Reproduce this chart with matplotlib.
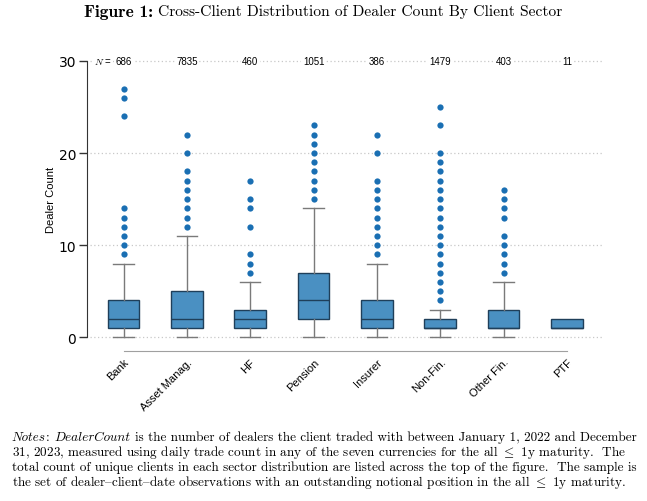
import matplotlib
matplotlib.use("Agg")
from matplotlib import pyplot as plt
import numpy as np

# sectores y estadisticas
sectores = ["Bank", "Asset Manag.", "HF", "Pension", "Insurer", "Non-Fin.", "Other Fin.", "PTF"]
n_clientes = [686, 7835, 460, 1051, 386, 1479, 403, 11]
bigote_bajo = [0, 0, 0, 0, 0, 0, 0, 1]
q1 = [1, 1, 1, 2, 1, 1, 1, 1]
mediana = [2, 2, 2, 4, 2, 1, 1, 1]
q3 = [4, 5, 3, 7, 4, 2, 3, 2]
bigote_alto = [8, 11, 6, 14, 8, 3, 6, 2]
atipicos = [
    [9, 10, 11, 12, 13, 14, 24, 26, 27],
    [12, 13, 14, 15, 16, 17, 18, 20, 22],
    [7, 8, 9, 12, 14, 15, 17],
    [15, 16, 17, 18, 19, 20, 21, 22, 23],
    [9, 10, 11, 12, 13, 14, 15, 16, 17, 20, 22],
    [4, 5, 6, 7, 8, 9, 10, 11, 12, 13, 14, 15, 16, 17, 18, 19, 20, 23, 25],
    [7, 8, 9, 10, 11, 13, 14, 15, 16],
    [],
]
yticks = [0, 10, 20, 30]

plt.rcParams['mathtext.fontset'] = 'cm'
sans = ['Liberation Sans', 'DejaVu Sans']
serif = ['cmr10', 'DejaVu Serif']
italica = ['cmmi10', 'DejaVu Serif']

fig = plt.figure(figsize=(6.47, 5.02), dpi=100)
ax = fig.add_axes([90/647, 1-352/502, 513/647, 293.7/502])

stats = []
for i in range(len(sectores)):
    stats.append(dict(med=mediana[i], q1=q1[i], q3=q3[i], whislo=bigote_bajo[i],
                      whishi=bigote_alto[i], fliers=atipicos[i], label=sectores[i]))

caps = [0.0 if bigote_alto[i] == q3[i] else 0.32 for i in range(len(sectores))]
pos = np.arange(len(sectores))
ax.bxp(stats, positions=pos, widths=0.5, capwidths=caps, patch_artist=True,
       boxprops=dict(facecolor='#4a90c2', edgecolor='#1f3f5a', linewidth=1.0),
       medianprops=dict(color='#1f3f5a', linewidth=1.0),
       whiskerprops=dict(color='#7a7a7a', linewidth=1.0),
       capprops=dict(color='#7a7a7a', linewidth=1.0),
       flierprops=dict(marker='o', markersize=4.5, markerfacecolor='#1a6fb3',
                       markeredgecolor='none'))

ax.set_xlim(-0.53, 7.57)
ax.set_ylim(-1.5, 30.4)
ax.set_yticks(yticks)
ax.set_yticklabels([str(t) for t in yticks], fontsize=8.5, family=sans)
ax.yaxis.grid(True, linestyle=(0, (1, 2)), color='#c8c8c8', linewidth=0.9)
ax.set_axisbelow(True)
ax.set_ylabel("Dealer Count", fontsize=8, family=sans)
ax.yaxis.set_label_coords(-0.066, 16.5/31.9)

ax.set_xticks(pos)
ax.set_xticklabels(sectores, rotation=45, ha='right', va='top', rotation_mode='anchor',
                   fontsize=8, family=sans)
ax.tick_params(axis='x', length=0, pad=4)
ax.tick_params(axis='y', length=6, width=1, color='#333333', pad=2)

for s in ['top', 'right']:
    ax.spines[s].set_visible(False)
ax.spines['left'].set_bounds(0, 30)
ax.spines['left'].set_position(('outward', 2))
ax.spines['left'].set_color('#333333')
ax.spines['bottom'].set_bounds(0, 7)
ax.spines['bottom'].set_color('#a0a0a0')

# conteos arriba
caja = dict(facecolor='white', edgecolor='none', pad=1.0)
ax.text(-0.33, 30, r"$\it{N}$ =", fontsize=7, family=sans, ha='center', va='center', bbox=caja)
for i, n in enumerate(n_clientes):
    ax.text(pos[i], 30, str(n), fontsize=7, family=sans, ha='center', va='center', bbox=caja)

# titulo
fig.text(153/647, 1-12/502, "Figure 1:", family=['cmb10', 'DejaVu Serif'], fontsize=12.5,
         ha='right', va='center')
fig.text(158/647, 1-12/502, "Cross-Client Distribution of Dealer Count By Client Sector",
         family=serif, fontsize=11.2, ha='left', va='center')

# notas ('{' es la raya corta en cmr10)
def y_nota(k):
    return 1 - (441.5 + 15*k)/502

r = fig.canvas.get_renderer()
piezas = [("Notes", italica, 0.8), (":", serif, 4.5), ("DealerCount", italica, 4.5),
          ("is the number of dealers the client traded with between January 1, 2022 and December", serif, 0)]
x = 11.5
for txt, fam, esp in piezas:
    t = fig.text(x/647, y_nota(0), txt, family=fam, fontsize=9.5, va='baseline')
    x = t.get_window_extent(r).x1 + esp

notas = [
    r"31, 2023, measured using daily trade count in any of the seven currencies for the all $\leq$ 1y maturity.  The",
    "total count of unique clients in each sector distribution are listed across the top of the figure.  The sample is",
    r"the set of dealer{client{date observations with an outstanding notional position in the all $\leq$ 1y maturity.",
]
for k, linea in enumerate(notas):
    fig.text(11.5/647, y_nota(k + 1), linea, family=serif, fontsize=9.5, ha='left', va='baseline')

fig.savefig("out.png", dpi=100)
